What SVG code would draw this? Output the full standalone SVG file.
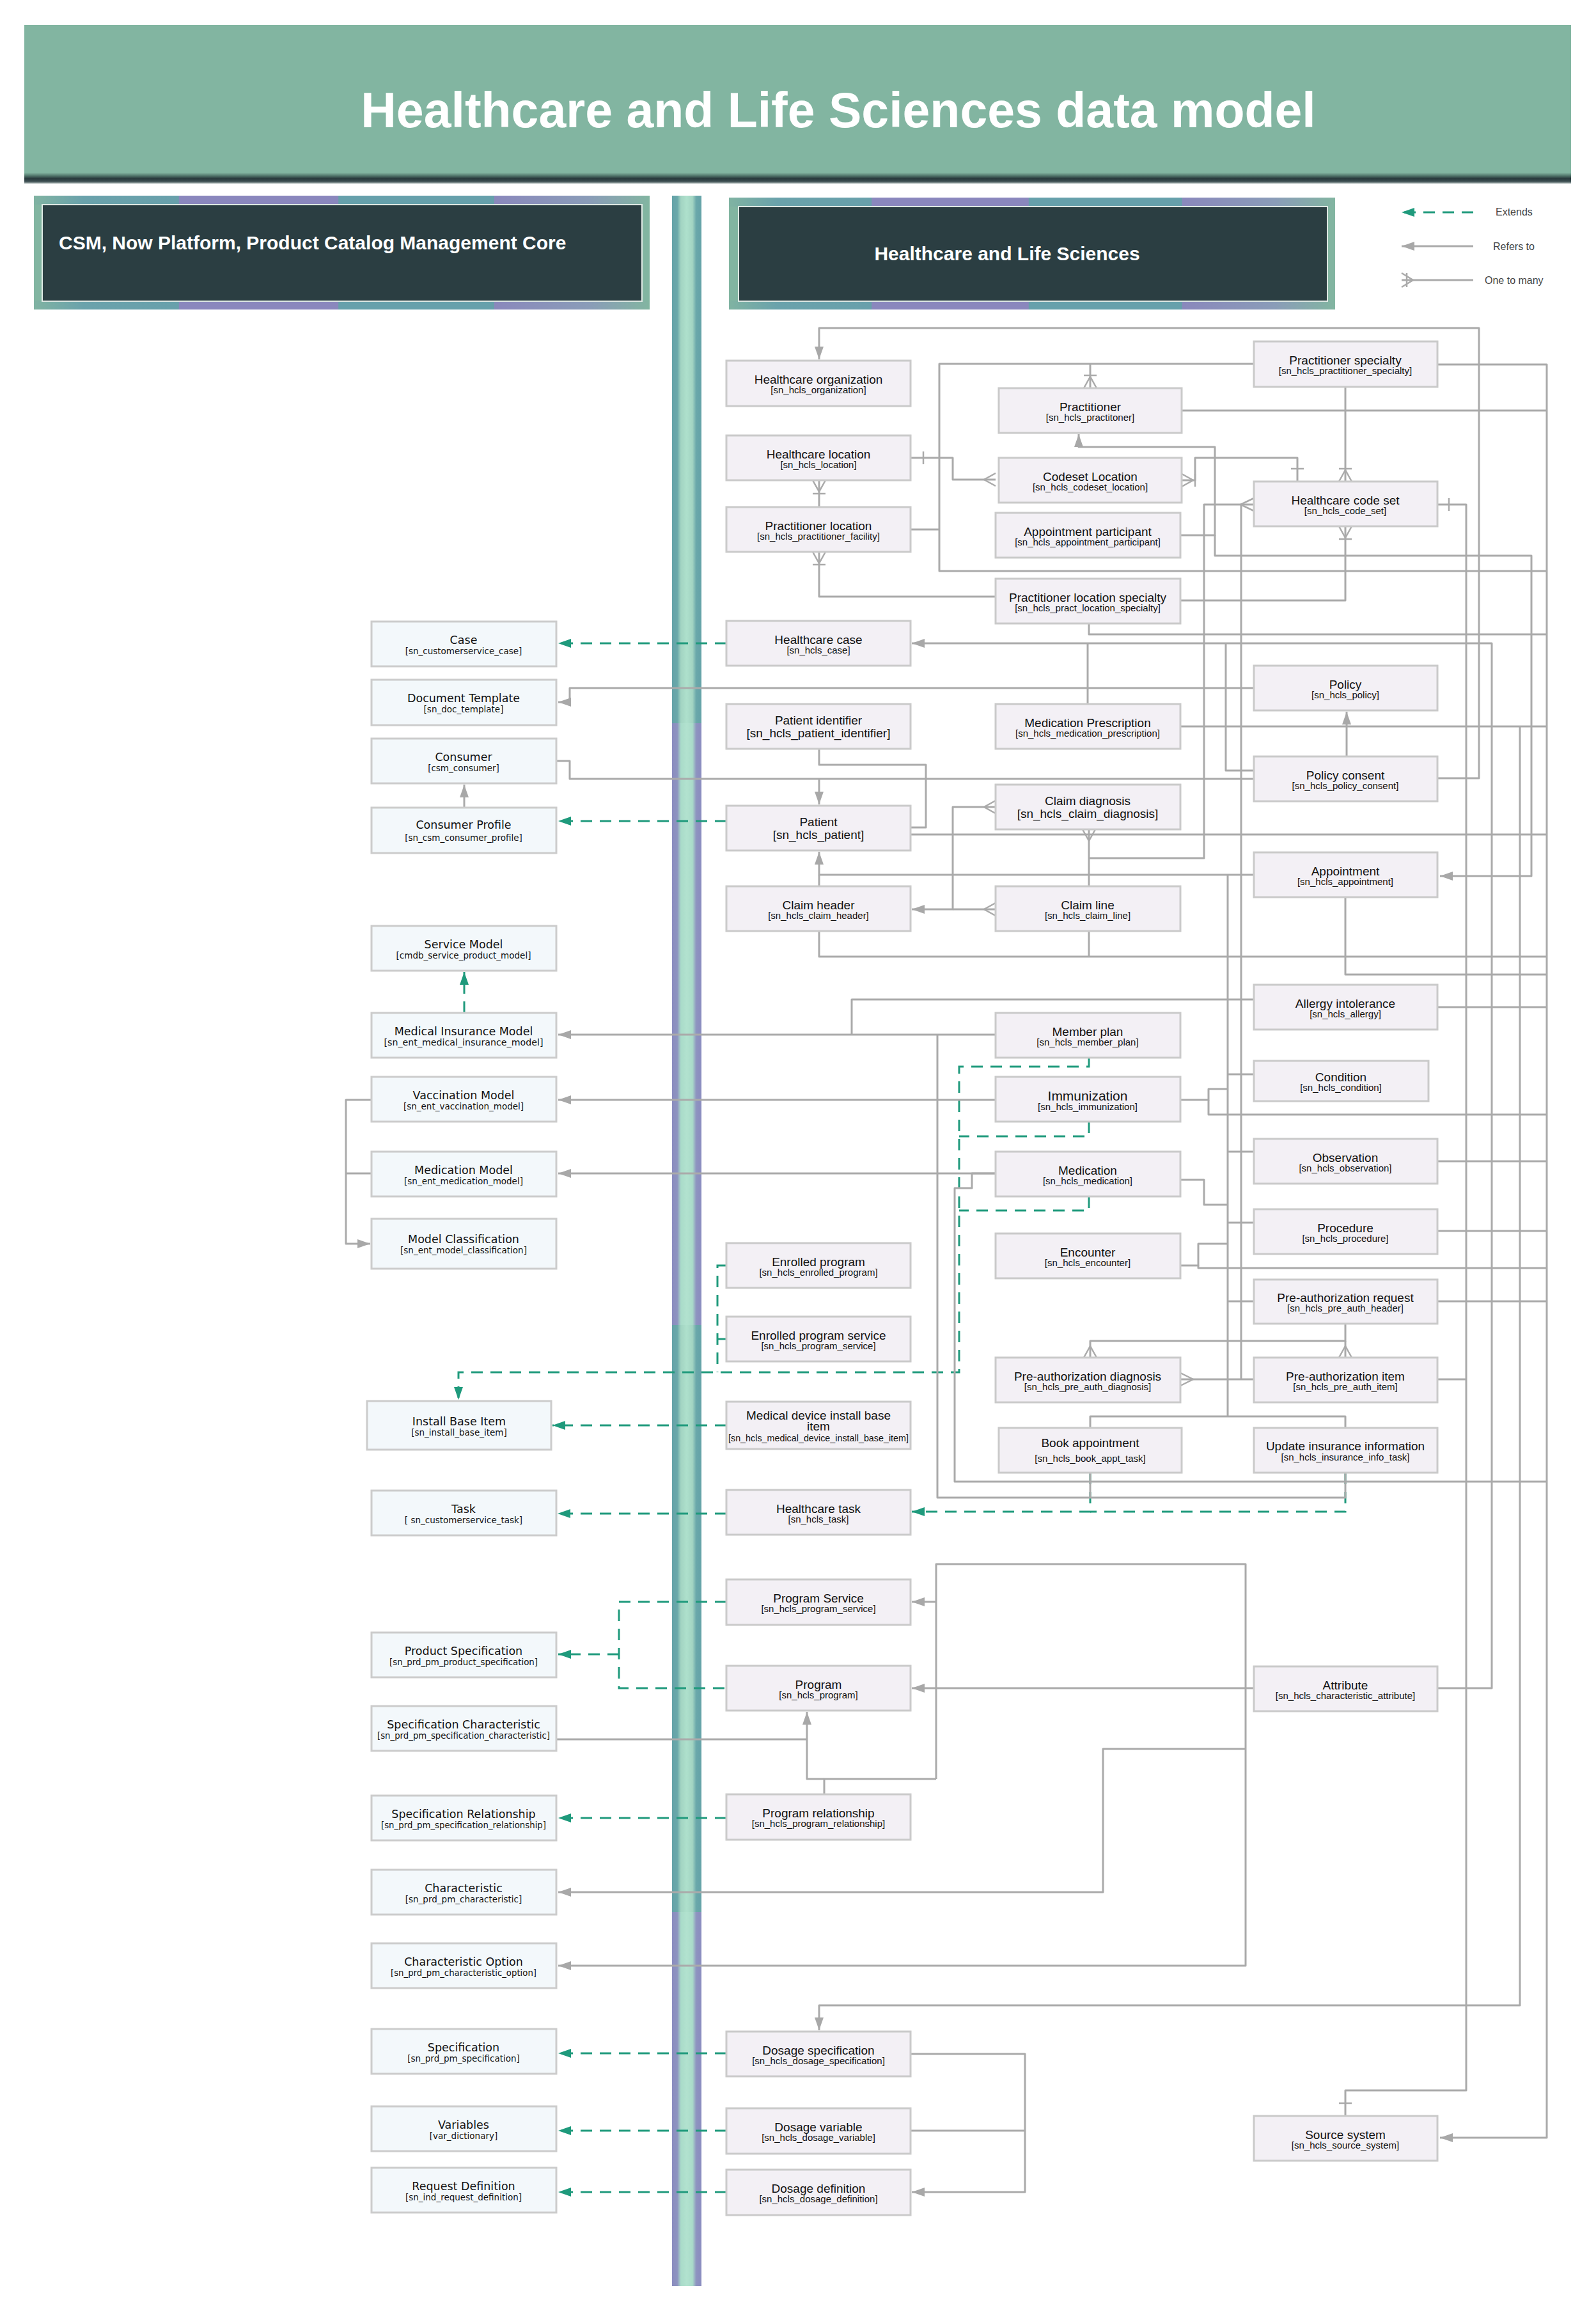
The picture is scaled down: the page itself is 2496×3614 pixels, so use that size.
<svg xmlns="http://www.w3.org/2000/svg" width="2496" height="3614" viewBox="0 0 2496 3614">
<style>
.bg{fill:#ffffff}
.nr rect{fill:#f3f0f5;stroke:#cacaca;stroke-width:3}
.nl rect{fill:#f3f8fb;stroke:#cccccc;stroke-width:3}
.nr text{font-family:"Liberation Sans",Arial,sans-serif;fill:#111;text-anchor:middle}
.nl text{font-family:"DejaVu Sans",Verdana,sans-serif;fill:#111;text-anchor:middle}
.nr .t{font-size:19px}
.nr .s{font-size:15px}
.nr .b{font-size:19px}
.nl .t{font-size:17.5px}
.nl .s{font-size:13.5px}
.ref{fill:none;stroke:#aaaaaa;stroke-width:3;stroke-linejoin:round}
.ext{fill:none;stroke:#1f9a7c;stroke-width:3;stroke-dasharray:18 12}
.cf{fill:none;stroke:#aaaaaa;stroke-width:2.5}
.hd{font-family:"Liberation Sans",Arial,sans-serif;font-weight:bold;fill:#ffffff}
.lg{font-family:"Liberation Sans",Arial,sans-serif;font-size:16px;fill:#444}
</style>
<defs>
<marker id="ar" viewBox="0 0 20 14" refX="20" refY="7" markerWidth="20" markerHeight="14" markerUnits="userSpaceOnUse" orient="auto"><path d="M0,0 L20,7 L0,14 z" fill="#a8a8a8"/></marker>
<marker id="ag" viewBox="0 0 20 14" refX="20" refY="7" markerWidth="20" markerHeight="14" markerUnits="userSpaceOnUse" orient="auto"><path d="M0,0 L20,7 L0,14 z" fill="#1f9a7c"/></marker>
<linearGradient id="band" x1="0" x2="1" y1="0" y2="0">
<stop offset="0" stop-color="#80b3a2"/><stop offset="0.08" stop-color="#6aa2ab"/><stop offset="0.235" stop-color="#68a0ab"/>
<stop offset="0.236" stop-color="#8a87bd"/><stop offset="0.494" stop-color="#8a87bd"/>
<stop offset="0.495" stop-color="#66a0ab"/><stop offset="0.747" stop-color="#66a0ab"/>
<stop offset="0.748" stop-color="#8a88bc"/><stop offset="0.9" stop-color="#8a9cb8"/><stop offset="1" stop-color="#82b5a1"/>
</linearGradient>
<linearGradient id="barP" x1="0" x2="1" y1="0" y2="0">
<stop offset="0" stop-color="#8a8cbf"/><stop offset="0.18" stop-color="#8e94c0"/><stop offset="0.3" stop-color="#a9dbc9"/><stop offset="0.5" stop-color="#b2e2cf"/><stop offset="0.7" stop-color="#a9dbc9"/><stop offset="0.82" stop-color="#8e94c0"/><stop offset="1" stop-color="#8a8cbf"/>
</linearGradient>
<linearGradient id="barT" x1="0" x2="1" y1="0" y2="0">
<stop offset="0" stop-color="#64a2a8"/><stop offset="0.18" stop-color="#6aa8aa"/><stop offset="0.3" stop-color="#a2d4c2"/><stop offset="0.5" stop-color="#aee0cc"/><stop offset="0.7" stop-color="#a2d4c2"/><stop offset="0.82" stop-color="#6aa8aa"/><stop offset="1" stop-color="#64a2a8"/>
</linearGradient>
<linearGradient id="shade" x1="0" x2="0" y1="0" y2="1">
<stop offset="0" stop-color="#82b5a1"/><stop offset="0.3" stop-color="#4f7268"/><stop offset="0.55" stop-color="#27383b"/><stop offset="0.8" stop-color="#3d4f52"/><stop offset="1" stop-color="#a7b3b2"/>
</linearGradient>
</defs>
<rect class="bg" x="0" y="0" width="2496" height="3614"/>

<g id="title-banner">
<rect x="38" y="39" width="2419" height="236" fill="#82b5a1"/>
<rect x="38" y="270" width="2419" height="17" fill="url(#shade)"/>
<text class="hd" x="1311" y="199" font-size="77" text-anchor="middle">Healthcare and Life Sciences data model</text>
</g>

<g id="header-left">
<rect x="53" y="306" width="963" height="178" fill="#82b5a1"/>
<rect x="53" y="306" width="963" height="14" fill="url(#band)"/>
<rect x="53" y="470" width="963" height="14" fill="url(#band)"/>
<rect x="66" y="320" width="938" height="151" fill="#2b3e42" stroke="#dfe9e4" stroke-width="2"/>
<text class="hd" x="92" y="390" font-size="30">CSM, Now Platform, Product Catalog Management Core</text>
</g>

<g id="header-right">
<rect x="1140" y="309" width="948" height="175" fill="#82b5a1"/>
<rect x="1140" y="309" width="948" height="14" fill="url(#band)"/>
<rect x="1140" y="470" width="948" height="14" fill="url(#band)"/>
<rect x="1155" y="323" width="921" height="148" fill="#2b3e42" stroke="#dfe9e4" stroke-width="2"/>
<text class="hd" x="1575" y="407" font-size="30" text-anchor="middle">Healthcare and Life Sciences</text>
</g>

<g id="divider">
<rect x="1051" y="306" width="46" height="3269" fill="url(#barP)"/>
<rect x="1051" y="306" width="46" height="825" fill="url(#barT)"/>
<rect x="1051" y="2072" width="46" height="918" fill="url(#barT)"/>
</g>

<g id="legend">
<path class="ext" d="M2304,332 H2192" marker-end="url(#ag)"/>
<text class="lg" x="2339" y="337">Extends</text>
<path class="ref" d="M2304,385 H2192" marker-end="url(#ar)"/>
<text class="lg" x="2335" y="391">Refers to</text>
<path class="ref" d="M2304,438 H2192"/>
<path class="cf" d="M2192,427 L2210,438 L2192,449 M2200,427 V449"/>
<text class="lg" x="2322" y="444">One to many</text>
</g>

<g id="connectors">
<path class="ext" d="M1136,1006 H873" marker-end="url(#ag)"/>
<path class="ext" d="M1136,1284 H873" marker-end="url(#ag)"/>
<path class="ext" d="M726,1584 V1520" marker-end="url(#ag)"/>
<path class="ext" d="M1703,1654 V1668 H1500 V2146 H717 V2189" marker-end="url(#ag)"/>
<path class="ext" d="M1703,1754 V1777 H1500"/>
<path class="ext" d="M1703,1871 V1893 H1500"/>
<path class="ext" d="M1136,1979 H1122 V2146"/>
<path class="ext" d="M1136,2094 H1122"/>
<path class="ext" d="M1136,2229 H864" marker-end="url(#ag)"/>
<path class="ext" d="M1136,2367 H872" marker-end="url(#ag)"/>
<path class="ext" d="M1705,2303 V2364 H1426" marker-end="url(#ag)"/>
<path class="ext" d="M2104,2303 V2364 H1705"/>
<path class="ext" d="M1136,2505 H968 V2640 H1136"/>
<path class="ext" d="M968,2587 H873" marker-end="url(#ag)"/>
<path class="ext" d="M1136,2843 H873" marker-end="url(#ag)"/>
<path class="ext" d="M1136,3211 H873" marker-end="url(#ag)"/>
<path class="ext" d="M1136,3332 H873" marker-end="url(#ag)"/>
<path class="ext" d="M1136,3428 H873" marker-end="url(#ag)"/>
<path class="ref" d="M726,1263 V1227" marker-end="url(#ar)"/>
<path class="ref" d="M1961,1076 H891 V1098 H873" marker-end="url(#ar)"/>
<path class="ref" d="M1961,1218 H891 V1190 H871"/>
<path class="ref" d="M1281,1218 V1258" marker-end="url(#ar)"/>
<path class="ref" d="M1557,1618 H873" marker-end="url(#ar)"/>
<path class="ref" d="M1961,1563 H1332 V1618"/>
<path class="ref" d="M1557,1720 H873" marker-end="url(#ar)"/>
<path class="ref" d="M1557,1835 H873" marker-end="url(#ar)"/>
<path class="ref" d="M581,1720 H541 V1945 H579" marker-end="url(#ar)"/>
<path class="ref" d="M581,1835 H541"/>
<path class="ref" d="M2248,1217 H2313 V513 H1281 V562" marker-end="url(#ar)"/>
<path class="ref" d="M2248,2640 H2333 V1006 H1426" marker-end="url(#ar)"/>
<path class="ref" d="M1961,1205 H1917 V1006"/>
<path class="ref" d="M1701,1101 V1006"/>
<path class="ref" d="M1846,1136 H2419"/>
<path class="ref" d="M2377,1136 V3136 H1281 V3175" marker-end="url(#ar)"/>
<path class="ref" d="M2106,1183 V1113" marker-end="url(#ar)"/>
<path class="ref" d="M1281,1171 V1196 H1448 V1294 H1424"/>
<path class="ref" d="M1557,1262 H1490 V1422 H1426" marker-end="url(#ar)"/>
<path class="ref" d="M1557,1422 H1490"/>
<path class="ref" d="M1703,1297 V1386"/>
<path class="ref" d="M1703,1342 H1883 V789 H1961"/>
<path class="ref" d="M1961,1368 H1281 V1332" marker-end="url(#ar)"/>
<path class="ref" d="M1281,1386 V1368"/>
<path class="ref" d="M1920,1368 V2215"/>
<path class="ref" d="M1961,1680 H1920"/>
<path class="ref" d="M1846,1720 H1890 V1703 H1920"/>
<path class="ref" d="M1961,1801 H1920"/>
<path class="ref" d="M1846,1845 H1883 V1884 H1920"/>
<path class="ref" d="M1961,1912 H1920"/>
<path class="ref" d="M1846,1979 H1874 V1945 H1920"/>
<path class="ref" d="M1961,2035 H1920"/>
<path class="ref" d="M1846,2157 H1961"/>
<path class="ref" d="M1941,789 V2157"/>
<path class="ref" d="M1705,2233 V2215 H2104 V2233"/>
<path class="ref" d="M1890,1720 V1743 H2419"/>
<path class="ref" d="M1874,1979 V1983 H2419"/>
<path class="ref" d="M2248,570 H2419 V3343 H2252" marker-end="url(#ar)"/>
<path class="ref" d="M1848,642 H2419"/>
<path class="ref" d="M1961,569 H1469 V893 H2419"/>
<path class="ref" d="M1705,607 V569"/>
<path class="ref" d="M1424,828 H1469"/>
<path class="ref" d="M1703,975 V992 H2419"/>
<path class="ref" d="M1424,1305 H2419"/>
<path class="ref" d="M1281,1456 V1496 H2419"/>
<path class="ref" d="M1703,1456 V1496"/>
<path class="ref" d="M2104,1403 V1524 H2419"/>
<path class="ref" d="M2248,1575 H2419"/>
<path class="ref" d="M2248,1816 H2419"/>
<path class="ref" d="M2248,1925 H2419"/>
<path class="ref" d="M2248,2035 H2419"/>
<path class="ref" d="M1557,1835 H1520 V1858 H1493 V2317 H2419"/>
<path class="ref" d="M2248,789 H2293 V3269 H2104 V3309"/>
<path class="ref" d="M2248,2157 H2293"/>
<path class="ref" d="M1846,837 H1900 V699 H1687 V679" marker-end="url(#ar)"/>
<path class="ref" d="M1900,837 V869 H2395 V1370 H2252" marker-end="url(#ar)"/>
<path class="ref" d="M1848,751 H1869 V716 H2029 V753"/>
<path class="ref" d="M2104,605 V753"/>
<path class="ref" d="M2104,823 V939 H1846"/>
<path class="ref" d="M1424,716 H1490 V750 H1557"/>
<path class="ref" d="M1281,751 V793"/>
<path class="ref" d="M1281,863 V933 H1557"/>
<path class="ref" d="M2104,2070 V2097 H1705 V2123"/>
<path class="ref" d="M2104,2097 V2123"/>
<path class="ref" d="M2104,2303 V2342 H1466 V1618"/>
<path class="ref" d="M1705,2303 V2342"/>
<path class="ref" d="M1464,2782 V2446 H1948 V3074 H873" marker-end="url(#ar)"/>
<path class="ref" d="M1464,2505 H1426" marker-end="url(#ar)"/>
<path class="ref" d="M1289,2806 V2782 H1464"/>
<path class="ref" d="M1289,2782 H1262 V2677" marker-end="url(#ar)"/>
<path class="ref" d="M1961,2640 H1426" marker-end="url(#ar)"/>
<path class="ref" d="M1948,2735 H1725 V2959 H873" marker-end="url(#ar)"/>
<path class="ref" d="M871,2720 H1262"/>
<path class="ref" d="M1424,3212 H1603 V3428 H1426" marker-end="url(#ar)"/>
<path class="ref" d="M1424,3332 H1603"/>
<path class="cf" d="M1695,607 L1705,589 L1715,607 M1695,587 H1715"/>
<path class="cf" d="M1557,740 L1539,750 L1557,760"/>
<path class="cf" d="M1848,741 L1866,751 L1848,761 M1869,741 V761"/>
<path class="cf" d="M2019,733 H2039"/>
<path class="cf" d="M2094,753 L2104,735 L2114,753 M2094,733 H2114"/>
<path class="cf" d="M2094,823 L2104,841 L2114,823 M2094,843 H2114"/>
<path class="cf" d="M1961,779 L1940,789 L1961,799"/>
<path class="cf" d="M2266,779 V799"/>
<path class="cf" d="M1444,706 V726"/>
<path class="cf" d="M1271,751 L1281,769 L1291,751 M1271,772 H1291"/>
<path class="cf" d="M1271,863 L1281,881 L1291,863 M1271,883 H1291"/>
<path class="cf" d="M1557,1252 L1539,1262 L1557,1272"/>
<path class="cf" d="M1557,1412 L1539,1422 L1557,1432"/>
<path class="cf" d="M1693,1297 L1703,1315 L1713,1297"/>
<path class="cf" d="M1695,2123 L1705,2105 L1715,2123"/>
<path class="cf" d="M2094,2123 L2104,2105 L2114,2123"/>
<path class="cf" d="M1846,2147 L1866,2157 L1846,2167"/>
<path class="cf" d="M2094,3289 H2114"/>
</g>

<g id="nodes-hls">
<g id="n-hc-org" class="nr"><rect x="1136" y="564" width="288" height="71"/><text class="t" x="1280" y="600">Healthcare organization</text><text class="s" x="1280" y="615">[sn_hcls_organization]</text></g>
<g id="n-prac-spec" class="nr"><rect x="1961" y="534" width="287" height="71"/><text class="t" x="2104" y="570">Practitioner specialty</text><text class="s" x="2104" y="585">[sn_hcls_practitioner_specialty]</text></g>
<g id="n-practitioner" class="nr"><rect x="1562" y="607" width="286" height="70"/><text class="t" x="1705" y="643">Practitioner</text><text class="s" x="1705" y="658">[sn_hcls_practitoner]</text></g>
<g id="n-hc-location" class="nr"><rect x="1136" y="681" width="288" height="70"/><text class="t" x="1280" y="717">Healthcare location</text><text class="s" x="1280" y="732">[sn_hcls_location]</text></g>
<g id="n-codeset-loc" class="nr"><rect x="1562" y="716" width="286" height="70"/><text class="t" x="1705" y="752">Codeset Location</text><text class="s" x="1705" y="767">[sn_hcls_codeset_location]</text></g>
<g id="n-code-set" class="nr"><rect x="1961" y="753" width="287" height="70"/><text class="t" x="2104" y="789">Healthcare code set</text><text class="s" x="2104" y="804">[sn_hcls_code_set]</text></g>
<g id="n-prac-loc" class="nr"><rect x="1136" y="793" width="288" height="70"/><text class="t" x="1280" y="829">Practitioner location</text><text class="s" x="1280" y="844">[sn_hcls_practitioner_facility]</text></g>
<g id="n-appt-part" class="nr"><rect x="1557" y="802" width="289" height="70"/><text class="t" x="1701" y="838">Appointment participant</text><text class="s" x="1701" y="853">[sn_hcls_appointment_participant]</text></g>
<g id="n-pls" class="nr"><rect x="1557" y="905" width="289" height="70"/><text class="t" x="1701" y="941">Practitioner location specialty</text><text class="s" x="1701" y="956">[sn_hcls_pract_location_specialty]</text></g>
<g id="n-hc-case" class="nr"><rect x="1136" y="971" width="288" height="70"/><text class="t" x="1280" y="1007">Healthcare case</text><text class="s" x="1280" y="1022">[sn_hcls_case]</text></g>
<g id="n-policy" class="nr"><rect x="1961" y="1041" width="287" height="70"/><text class="t" x="2104" y="1077">Policy</text><text class="s" x="2104" y="1092">[sn_hcls_policy]</text></g>
<g id="n-pat-id" class="nr"><rect x="1136" y="1101" width="288" height="70"/><text class="t" x="1280" y="1133">Patient identifier</text><text class="b" x="1280" y="1153">[sn_hcls_patient_identifier]</text></g>
<g id="n-med-presc" class="nr"><rect x="1557" y="1101" width="289" height="70"/><text class="t" x="1701" y="1137">Medication Prescription</text><text class="s" x="1701" y="1152">[sn_hcls_medication_prescription]</text></g>
<g id="n-policy-consent" class="nr"><rect x="1961" y="1183" width="287" height="70"/><text class="t" x="2104" y="1219">Policy consent</text><text class="s" x="2104" y="1234">[sn_hcls_policy_consent]</text></g>
<g id="n-claim-diag" class="nr"><rect x="1557" y="1227" width="289" height="70"/><text class="t" x="1701" y="1259">Claim diagnosis</text><text class="b" x="1701" y="1279">[sn_hcls_claim_diagnosis]</text></g>
<g id="n-patient" class="nr"><rect x="1136" y="1260" width="288" height="70"/><text class="t" x="1280" y="1292">Patient</text><text class="b" x="1280" y="1312">[sn_hcls_patient]</text></g>
<g id="n-appointment" class="nr"><rect x="1961" y="1333" width="287" height="70"/><text class="t" x="2104" y="1369">Appointment</text><text class="s" x="2104" y="1384">[sn_hcls_appointment]</text></g>
<g id="n-claim-header" class="nr"><rect x="1136" y="1386" width="288" height="70"/><text class="t" x="1280" y="1422">Claim header</text><text class="s" x="1280" y="1437">[sn_hcls_claim_header]</text></g>
<g id="n-claim-line" class="nr"><rect x="1557" y="1386" width="289" height="70"/><text class="t" x="1701" y="1422">Claim line</text><text class="s" x="1701" y="1437">[sn_hcls_claim_line]</text></g>
<g id="n-allergy" class="nr"><rect x="1961" y="1540" width="287" height="70"/><text class="t" x="2104" y="1576">Allergy intolerance</text><text class="s" x="2104" y="1591">[sn_hcls_allergy]</text></g>
<g id="n-member-plan" class="nr"><rect x="1557" y="1584" width="289" height="70"/><text class="t" x="1701" y="1620">Member plan</text><text class="s" x="1701" y="1635">[sn_hcls_member_plan]</text></g>
<g id="n-condition" class="nr"><rect x="1961" y="1659" width="273" height="63"/><text class="t" x="2097" y="1691">Condition</text><text class="s" x="2097" y="1706">[sn_hcls_condition]</text></g>
<g id="n-immunization" class="nr"><rect x="1557" y="1684" width="289" height="70"/><text class="t" x="1701" y="1721" style="font-size:21px">Immunization</text><text class="s" x="1701" y="1736">[sn_hcls_immunization]</text></g>
<g id="n-observation" class="nr"><rect x="1961" y="1781" width="287" height="70"/><text class="t" x="2104" y="1817">Observation</text><text class="s" x="2104" y="1832">[sn_hcls_observation]</text></g>
<g id="n-medication" class="nr"><rect x="1557" y="1801" width="289" height="70"/><text class="t" x="1701" y="1837">Medication</text><text class="s" x="1701" y="1852">[sn_hcls_medication]</text></g>
<g id="n-procedure" class="nr"><rect x="1961" y="1891" width="287" height="70"/><text class="t" x="2104" y="1927">Procedure</text><text class="s" x="2104" y="1942">[sn_hcls_procedure]</text></g>
<g id="n-encounter" class="nr"><rect x="1557" y="1929" width="289" height="70"/><text class="t" x="1701" y="1965">Encounter</text><text class="s" x="1701" y="1980">[sn_hcls_encounter]</text></g>
<g id="n-enrolled-program" class="nr"><rect x="1136" y="1944" width="288" height="70"/><text class="t" x="1280" y="1980">Enrolled program</text><text class="s" x="1280" y="1995">[sn_hcls_enrolled_program]</text></g>
<g id="n-preauth-req" class="nr"><rect x="1961" y="2001" width="287" height="69"/><text class="t" x="2104" y="2036">Pre-authorization request</text><text class="s" x="2104" y="2051">[sn_hcls_pre_auth_header]</text></g>
<g id="n-enrolled-prog-svc" class="nr"><rect x="1136" y="2059" width="288" height="70"/><text class="t" x="1280" y="2095">Enrolled program service</text><text class="s" x="1280" y="2110">[sn_hcls_program_service]</text></g>
<g id="n-preauth-diag" class="nr"><rect x="1557" y="2123" width="289" height="70"/><text class="t" x="1701" y="2159">Pre-authorization diagnosis</text><text class="s" x="1701" y="2174">[sn_hcls_pre_auth_diagnosis]</text></g>
<g id="n-preauth-item" class="nr"><rect x="1961" y="2123" width="287" height="70"/><text class="t" x="2104" y="2159">Pre-authorization item</text><text class="s" x="2104" y="2174">[sn_hcls_pre_auth_item]</text></g>
<g id="n-med-device" class="nr"><rect x="1136" y="2192" width="288" height="74"/><text class="t" x="1280" y="2220">Medical device install base</text><text class="t" x="1280" y="2237">item</text><text class="s" x="1280" y="2254" textLength="282" lengthAdjust="spacingAndGlyphs">[sn_hcls_medical_device_install_base_item]</text></g>
<g id="n-book-appt" class="nr"><rect x="1562" y="2233" width="286" height="70"/><text class="t" x="1705" y="2263">Book appointment</text><text class="s" x="1705" y="2286">[sn_hcls_book_appt_task]</text></g>
<g id="n-update-ins" class="nr"><rect x="1961" y="2233" width="287" height="70"/><text class="t" x="2104" y="2268">Update insurance information</text><text class="s" x="2104" y="2284">[sn_hcls_insurance_info_task]</text></g>
<g id="n-hc-task" class="nr"><rect x="1136" y="2330" width="288" height="70"/><text class="t" x="1280" y="2366">Healthcare task</text><text class="s" x="1280" y="2381">[sn_hcls_task]</text></g>
<g id="n-program-service" class="nr"><rect x="1136" y="2470" width="288" height="71"/><text class="t" x="1280" y="2506">Program Service</text><text class="s" x="1280" y="2521">[sn_hcls_program_service]</text></g>
<g id="n-program" class="nr"><rect x="1136" y="2605" width="288" height="70"/><text class="t" x="1280" y="2641">Program</text><text class="s" x="1280" y="2656">[sn_hcls_program]</text></g>
<g id="n-attribute" class="nr"><rect x="1961" y="2606" width="287" height="70"/><text class="t" x="2104" y="2642">Attribute</text><text class="s" x="2104" y="2657">[sn_hcls_characteristic_attribute]</text></g>
<g id="n-program-rel" class="nr"><rect x="1136" y="2806" width="288" height="71"/><text class="t" x="1280" y="2842">Program relationship</text><text class="s" x="1280" y="2857">[sn_hcls_program_relationship]</text></g>
<g id="n-dosage-spec" class="nr"><rect x="1136" y="3177" width="288" height="70"/><text class="t" x="1280" y="3213">Dosage specification</text><text class="s" x="1280" y="3228">[sn_hcls_dosage_specification]</text></g>
<g id="n-dosage-var" class="nr"><rect x="1136" y="3297" width="288" height="71"/><text class="t" x="1280" y="3333">Dosage variable</text><text class="s" x="1280" y="3348">[sn_hcls_dosage_variable]</text></g>
<g id="n-dosage-def" class="nr"><rect x="1136" y="3393" width="288" height="71"/><text class="t" x="1280" y="3429">Dosage definition</text><text class="s" x="1280" y="3444">[sn_hcls_dosage_definition]</text></g>
<g id="n-source-system" class="nr"><rect x="1961" y="3309" width="287" height="70"/><text class="t" x="2104" y="3345">Source system</text><text class="s" x="2104" y="3360">[sn_hcls_source_system]</text></g>
</g>

<g id="nodes-core">
<g id="n-case" class="nl"><rect x="581" y="972" width="289" height="70"/><text class="t" x="725" y="1007">Case</text><text class="s" x="725" y="1023">[sn_customerservice_case]</text></g>
<g id="n-doc-template" class="nl"><rect x="581" y="1063" width="289" height="71"/><text class="t" x="725" y="1098">Document Template</text><text class="s" x="725" y="1114">[sn_doc_template]</text></g>
<g id="n-consumer" class="nl"><rect x="581" y="1155" width="289" height="70"/><text class="t" x="725" y="1190">Consumer</text><text class="s" x="725" y="1206">[csm_consumer]</text></g>
<g id="n-consumer-profile" class="nl"><rect x="581" y="1263" width="289" height="71"/><text class="t" x="725" y="1296">Consumer Profile</text><text class="s" x="725" y="1315">[sn_csm_consumer_profile]</text></g>
<g id="n-service-model" class="nl"><rect x="581" y="1448" width="289" height="70"/><text class="t" x="725" y="1483">Service Model</text><text class="s" x="725" y="1499">[cmdb_service_product_model]</text></g>
<g id="n-med-ins-model" class="nl"><rect x="581" y="1584" width="289" height="70"/><text class="t" x="725" y="1619">Medical Insurance Model</text><text class="s" x="725" y="1635" textLength="249" lengthAdjust="spacingAndGlyphs">[sn_ent_medical_insurance_model]</text></g>
<g id="n-vacc-model" class="nl"><rect x="581" y="1684" width="289" height="70"/><text class="t" x="725" y="1719">Vaccination Model</text><text class="s" x="725" y="1735">[sn_ent_vaccination_model]</text></g>
<g id="n-medication-model" class="nl"><rect x="581" y="1801" width="289" height="70"/><text class="t" x="725" y="1836">Medication Model</text><text class="s" x="725" y="1852">[sn_ent_medication_model]</text></g>
<g id="n-model-class" class="nl"><rect x="581" y="1906" width="289" height="78"/><text class="t" x="725" y="1944">Model Classification</text><text class="s" x="725" y="1960">[sn_ent_model_classification]</text></g>
<g id="n-install-base" class="nl"><rect x="574" y="2191" width="288" height="76"/><text class="t" x="718" y="2229">Install Base Item</text><text class="s" x="718" y="2245">[sn_install_base_item]</text></g>
<g id="n-task" class="nl"><rect x="581" y="2331" width="289" height="70"/><text class="t" x="725" y="2366">Task</text><text class="s" x="725" y="2382">[ sn_customerservice_task]</text></g>
<g id="n-product-spec" class="nl"><rect x="581" y="2553" width="289" height="70"/><text class="t" x="725" y="2588">Product Specification</text><text class="s" x="725" y="2604" textLength="232" lengthAdjust="spacingAndGlyphs">[sn_prd_pm_product_specification]</text></g>
<g id="n-spec-char" class="nl"><rect x="581" y="2668" width="289" height="70"/><text class="t" x="725" y="2703">Specification Characteristic</text><text class="s" x="725" y="2719" textLength="270" lengthAdjust="spacingAndGlyphs">[sn_prd_pm_specification_characteristic]</text></g>
<g id="n-spec-rel" class="nl"><rect x="581" y="2808" width="289" height="70"/><text class="t" x="725" y="2843">Specification Relationship</text><text class="s" x="725" y="2859" textLength="258" lengthAdjust="spacingAndGlyphs">[sn_prd_pm_specification_relationship]</text></g>
<g id="n-characteristic" class="nl"><rect x="581" y="2924" width="289" height="70"/><text class="t" x="725" y="2959">Characteristic</text><text class="s" x="725" y="2975">[sn_prd_pm_characteristic]</text></g>
<g id="n-char-option" class="nl"><rect x="581" y="3039" width="289" height="70"/><text class="t" x="725" y="3074">Characteristic Option</text><text class="s" x="725" y="3090" textLength="228" lengthAdjust="spacingAndGlyphs">[sn_prd_pm_characteristic_option]</text></g>
<g id="n-specification" class="nl"><rect x="581" y="3173" width="289" height="70"/><text class="t" x="725" y="3208">Specification</text><text class="s" x="725" y="3224">[sn_prd_pm_specification]</text></g>
<g id="n-variables" class="nl"><rect x="581" y="3294" width="289" height="70"/><text class="t" x="725" y="3329">Variables</text><text class="s" x="725" y="3345">[var_dictionary]</text></g>
<g id="n-request-def" class="nl"><rect x="581" y="3390" width="289" height="70"/><text class="t" x="725" y="3425">Request Definition</text><text class="s" x="725" y="3441">[sn_ind_request_definition]</text></g>
</g>
</svg>
